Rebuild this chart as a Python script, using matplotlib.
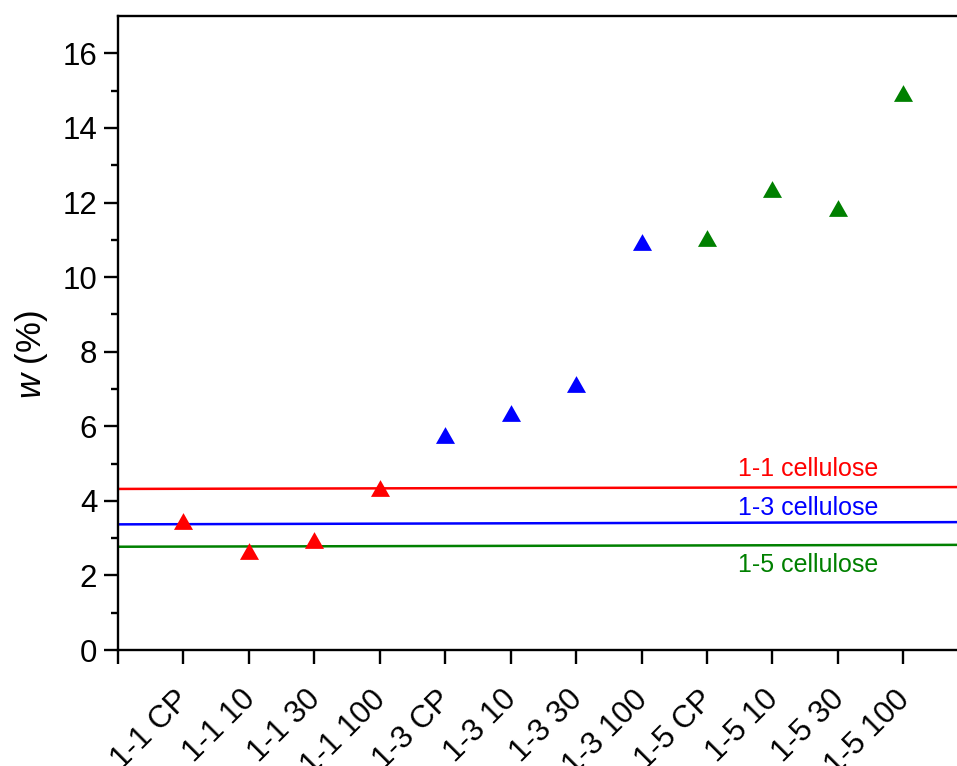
import matplotlib
matplotlib.use("Agg")
import matplotlib.pyplot as plt
from matplotlib.transforms import ScaledTranslation

plt.rcParams["font.family"] = ["Liberation Sans", "DejaVu Sans"]
plt.rcParams["mathtext.fontset"] = "custom"
plt.rcParams["mathtext.it"] = "Liberation Sans:italic"
plt.rcParams["mathtext.rm"] = "Liberation Sans"

# sample names along the x axis
samples = ["1-1 CP", "1-1 10", "1-1 30", "1-1 100",
           "1-3 CP", "1-3 10", "1-3 30", "1-3 100",
           "1-5 CP", "1-5 10", "1-5 30", "1-5 100"]

# w (%) per group
w_11 = [3.46, 2.65, 2.95, 4.35]
w_13 = [5.76, 6.35, 7.14, 10.95]
w_15 = [11.05, 12.35, 11.85, 14.95]

# reference levels of the untreated cellulose (start, end of the line)
ref_11 = [4.32, 4.37]
ref_13 = [3.37, 3.43]
ref_15 = [2.77, 2.82]

colors = ["#ff0000", "#0000ff", "#008000"]
groups = [w_11, w_13, w_15]
refs = [ref_11, ref_13, ref_15]
ref_names = ["1-1 cellulose", "1-3 cellulose", "1-5 cellulose"]
ref_text_y = [4.66, 3.62, 2.09]

XMAX = 12.82
tri = [(0, 0.88), (-1, -0.88), (1, -0.88)]

fig = plt.figure(figsize=(9.57, 7.66), dpi=100)
ax = fig.add_axes([0.1233, 0.1514, 1 - 0.1233, 0.979 - 0.1514])

for i, (vals, ref, c) in enumerate(zip(groups, refs, colors)):
    ax.plot([0, XMAX], ref, color=c, lw=1.8, zorder=2)
    xs = [4 * i + k + 1 for k in range(len(vals))]
    ax.plot(xs, vals, ls="none", marker=tri, ms=13.7, color=c,
            markeredgewidth=0, zorder=3)
    ax.text(9.48, ref_text_y[i], ref_names[i], color=c, fontsize=18,
            ha="left", va="baseline")

ax.set_xlim(0, XMAX)
ax.set_ylim(0, 17)

ax.set_xticks(range(0, 13))
ax.set_xticklabels([""] + samples, rotation=45, ha="right", va="top",
                   rotation_mode="anchor", fontsize=22.5)
ax.set_yticks(range(0, 17, 2))
ax.set_yticks(range(1, 17, 2), minor=True)
ax.tick_params(axis="y", labelsize=22.5)
ax.tick_params(axis="both", which="major", direction="out", length=10,
               width=1.7, pad=5)
ax.tick_params(axis="y", which="minor", direction="out", length=5, width=1.7)
ax.tick_params(axis="x", which="major", pad=12)

# nudge the slanted sample names so they end just under their ticks
shift = ScaledTranslation(-9 / 100, -4 / 100, fig.dpi_scale_trans)
for lbl in ax.get_xticklabels():
    lbl.set_transform(lbl.get_transform() + shift)

for side in ["left", "bottom", "top"]:
    ax.spines[side].set_linewidth(1.7)
ax.spines["right"].set_visible(False)

fig.text(32 / 957, 1 - 355 / 766, r"$\it{w}$ (%)", rotation=90,
         ha="center", va="center", fontsize=25)

fig.savefig("out.png", dpi=100)
